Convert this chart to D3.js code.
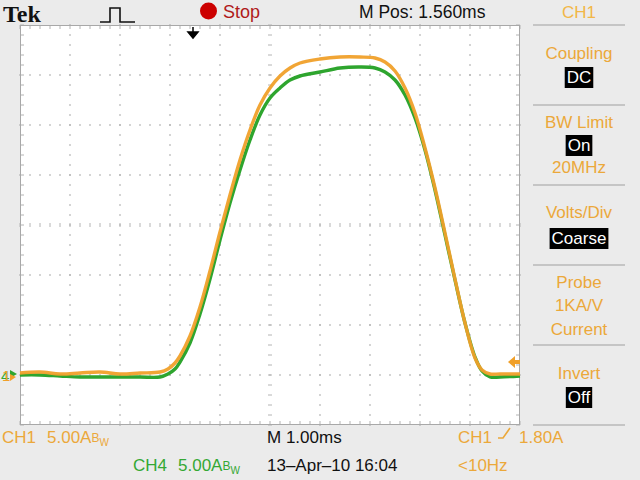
<!DOCTYPE html>
<html><head><meta charset="utf-8">
<script src="https://cdn.jsdelivr.net/npm/d3@7/dist/d3.min.js"></script>
<style>
html,body{margin:0;padding:0;background:#ebebeb;}
svg{display:block;}
</style></head>
<body>
<svg id="c" width="640" height="480"></svg>
<script>
// ---- data (time in ms across screen, current in A) ----
const timeMs = [0,0.4,0.8,1.2,1.6,2.0,2.4,2.8,2.96,3.1,3.2,3.4,3.6,3.8,4.0,4.2,4.4,4.6,4.8,5.0,5.2,5.4,5.6,6.0,6.4,6.8,7.1,7.3,7.5,7.7,7.9,8.1,8.3,8.5,8.7,8.9,9.1,9.24,9.4,9.6,10];
const ch1Amps = [0.2,0.3,0.1,0.2,0.3,0.1,0.2,0.3,0.6,1.2,1.9,3.9,6.8,10.4,14.3,18.0,21.5,24.5,27.0,28.7,29.9,30.7,31.2,31.6,31.8,31.8,31.7,31.3,30.4,28.7,26.2,22.7,18.7,14.2,9.6,5.2,1.7,0.5,0.1,0.1,0.1];
const ch4Amps = [0.0,0.0,-0.1,-0.2,-0.2,-0.2,-0.2,-0.2,0.1,0.6,1.3,3.2,6.1,9.6,13.5,17.2,20.5,23.5,26.0,27.7,28.7,29.5,29.9,30.3,30.7,30.8,30.7,30.3,29.5,28.0,25.7,22.5,18.5,14.0,9.5,5.2,1.8,0.4,-0.2,-0.2,-0.1];
const timeDivs = [0,1,2,3,4,5,6,7,8,9,10];
const ampDivs = [-5,0,5,10,15,20,25,30,35];
const menuItems = [
  {t:"Coupling", cy:53}, {t:"DC", cy:77, box:true},
  {t:"BW Limit", cy:122}, {t:"On", cy:145, box:true}, {t:"20MHz", cy:167},
  {t:"Volts/Div", cy:212}, {t:"Coarse", cy:238, box:true},
  {t:"Probe", cy:282}, {t:"1KA/V", cy:305}, {t:"Current", cy:329},
  {t:"Invert", cy:373}, {t:"Off", cy:397, box:true}
];

const ORANGE = "#f0a02a", GREEN = "#2ea52e";
const TXT_OR = "#eba83a", TXT_GR = "#34a834";
const FONT = "'Liberation Sans', Arial, sans-serif";

const svg = d3.select("#c");
const x = d3.scaleLinear().domain([0,10]).range([20,520]);
const y = d3.scaleLinear().domain([-5,35]).range([425,25]);

// plot background
svg.append("rect").attr("x",x(0)).attr("y",y(35)).attr("width",x(10)-x(0)).attr("height",y(-5)-y(35)).attr("fill","#ffffff");

const g = svg.append("g");
const gridCol = "#b4b4b4";
// dotted grid
timeDivs.slice(1,-1).forEach(d=>{
  if(d===5) return;
  d3.range(-5,35.01,1).forEach(v=>{
    g.append("rect").attr("x",x(d)-0.75).attr("y",y(v)-0.75).attr("width",1.5).attr("height",1.5).attr("fill",gridCol);
  });
});
ampDivs.slice(1,-1).forEach(v=>{
  if(v===15) return;
  d3.range(0,10.01,0.2).forEach(t=>{
    g.append("rect").attr("x",x(t)-0.75).attr("y",y(v)-0.75).attr("width",1.5).attr("height",1.5).attr("fill",gridCol);
  });
});
// center crosshair ticks
d3.range(0,10.01,0.2).forEach(t=>{
  g.append("line").attr("x1",x(t)).attr("x2",x(t)).attr("y1",y(15)-2).attr("y2",y(15)+2).attr("stroke",gridCol);
});
d3.range(-5,35.01,1).forEach(v=>{
  g.append("line").attr("x1",x(5)-2).attr("x2",x(5)+2).attr("y1",y(v)).attr("y2",y(v)).attr("stroke",gridCol);
});
// edge ticks
d3.range(0,10.01,0.2).forEach(t=>{
  g.append("line").attr("x1",x(t)).attr("x2",x(t)).attr("y1",y(35)).attr("y2",y(35)+4).attr("stroke",gridCol);
  g.append("line").attr("x1",x(t)).attr("x2",x(t)).attr("y1",y(-5)).attr("y2",y(-5)-4).attr("stroke",gridCol);
});
d3.range(-5,35.01,1).forEach(v=>{
  g.append("line").attr("x1",x(0)).attr("x2",x(0)+4).attr("y1",y(v)).attr("y2",y(v)).attr("stroke",gridCol);
  g.append("line").attr("x1",x(10)).attr("x2",x(10)-4).attr("y1",y(v)).attr("y2",y(v)).attr("stroke",gridCol);
});
g.append("rect").attr("x",x(0)+0.5).attr("y",y(35)+0.5).attr("width",x(10)-x(0)-1).attr("height",y(-5)-y(35)-1).attr("fill","none").attr("stroke","#a8a8a8");

// traces
const line = d3.line().x((d,i)=>x(timeMs[i])).y(d=>y(d)).curve(d3.curveCatmullRom);
svg.append("path").datum(ch4Amps).attr("d",line).attr("fill","none").attr("stroke",GREEN).attr("stroke-width",3.4).attr("stroke-linejoin","round");
svg.append("path").datum(ch1Amps).attr("d",line).attr("fill","none").attr("stroke",ORANGE).attr("stroke-width",3.4).attr("stroke-linejoin","round").attr("opacity",0.95);

// ground markers (left)
const gy = y(0);
svg.append("text").attr("x",1).attr("y",gy+6).attr("font-family",FONT).attr("font-size",15).attr("fill",TXT_GR).text("4");
svg.append("text").attr("x",2).attr("y",gy+6).attr("font-family",FONT).attr("font-size",15).attr("fill",ORANGE).text("1");
svg.append("path").attr("d",`M10,${gy-5} L17,${gy-1} L10,${gy+3} Z`).attr("fill",GREEN);
svg.append("path").attr("d",`M10,${gy-1} L16,${gy+2} L10,${gy+6} Z`).attr("fill",ORANGE);
// trigger level marker (right)
const ty = 362;
svg.append("path").attr("d",`M508,${ty} L515,${ty-6} L515,${ty-2} L520,${ty-2} L520,${ty+2} L515,${ty+2} L515,${ty+6} Z`).attr("fill",ORANGE);
// trigger position marker (top)
svg.append("path").attr("d",`M193,27 L193,36 M188,32 L193,38 L198,32 Z`).attr("stroke","#000").attr("stroke-width",1.5).attr("fill","#000");

// top bar
svg.append("text").attr("x",3).attr("y",22).attr("font-family","'Liberation Serif', serif").attr("font-weight","bold").attr("font-size",24).attr("fill","#111").text("Tek");
svg.append("path").attr("d","M100,22 L110,22 L110,8 L120,8 L120,22 L135,22").attr("stroke","#111").attr("stroke-width",1.6).attr("fill","none");
svg.append("circle").attr("cx",208.5).attr("cy",11).attr("r",8.5).attr("fill","#cc0000");
svg.append("text").attr("x",223).attr("y",18).attr("font-family",FONT).attr("font-size",18).attr("fill","#b01a1a").text("Stop");
svg.append("text").attr("x",359).attr("y",18).attr("font-family",FONT).attr("font-size",17.5).attr("fill","#111").text("M Pos: 1.560ms");
svg.append("text").attr("x",579).attr("y",18).attr("text-anchor","middle").attr("font-family",FONT).attr("font-size",17).attr("fill","#f2b748").text("CH1");

// right menu
const sepCol = "#a0a0a0";
[25,105,185,265,345,425].forEach(sy=>{
  svg.append("line").attr("x1",533).attr("x2",625).attr("y1",sy).attr("y2",sy).attr("stroke",sepCol).attr("stroke-width",1.2);
});
menuItems.forEach(m=>{
  const t = svg.append("text").attr("x",579).attr("y",m.cy+6).attr("text-anchor","middle")
    .attr("font-family",FONT).attr("font-size",17).attr("fill",m.box?"#fff":TXT_OR).text(m.t);
  if(m.box){
    const w = t.node().getComputedTextLength();
    svg.append("rect").attr("x",579-w/2-2).attr("y",m.cy-10).attr("width",w+4).attr("height",21).attr("fill","#000");
    t.raise();
  }
});

// bottom bar
function txt(xp, yp, s, col, size){
  return svg.append("text").attr("x",xp).attr("y",yp).attr("font-family",FONT).attr("font-size",size||17).attr("fill",col).text(s);
}
function scaleLabel(xp, yp, ch, col){
  txt(xp, yp, ch, col);
  const t = txt(xp+45, yp, "5.00A", col);
  t.append("tspan").attr("font-size",12).attr("dy",-1).text("B");
  t.append("tspan").attr("font-size",10).attr("dy",4).text("W");
}
scaleLabel(2,443,"CH1",TXT_OR);
scaleLabel(133,471,"CH4",TXT_GR);
txt(267,443,"M 1.00ms","#111");
txt(267,471,"13\u2013Apr\u201310 16:04","#111");
txt(458,443,"CH1",TXT_OR);
svg.append("path").attr("d","M498,438 L503,438 L510,428").attr("stroke",TXT_OR).attr("stroke-width",1.6).attr("fill","none");
txt(519,443,"1.80A",TXT_OR);
txt(458,471,"<10Hz",TXT_OR);
</script>
</body></html>
